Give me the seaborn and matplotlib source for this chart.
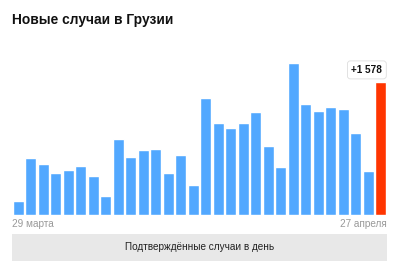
import matplotlib
matplotlib.use("Agg")
import matplotlib.pyplot as plt
import seaborn as sns
import pandas as pd

days = [f"{d} марта" for d in range(29, 32)] + [f"{d} апреля" for d in range(1, 28)]
cases = [166, 675, 607, 494, 529, 577, 465, 221, 903, 683,
         766, 778, 501, 710, 355, 1382, 1086, 1030, 1086, 1220,
         817, 572, 1803, 1311, 1231, 1275, 1259, 967, 521, 1578]
title = "Новые случаи в Грузии"
first_label = "29 марта"
last_label = "27 апреля"
last_value_label = "+1 578"
footer = "Подтверждённые случаи в день"

sns.set_style("white")
plt.rcParams['font.family'] = ['Liberation Sans', 'DejaVu Sans']

W, H = 400, 261
fig = plt.figure(figsize=(W / 100, H / 100), dpi=100)

# axes: x 12..387 px, y baseline 215, top 45
ax = fig.add_axes([12 / W, 1 - 215 / H, 375 / W, 170 / H])
df = pd.DataFrame({"day": days, "cases": cases})
palette = ["#52a8ff"] * (len(days) - 1) + ["#ff3500"]
sns.barplot(data=df, x="day", y="cases", hue="day", palette=palette,
            legend=False, width=0.91, ax=ax, saturation=1)
ax.set_xlim(-0.5, len(days) - 0.5)
ax.set_ylim(0, 170 * 1578 / 133.3)
ax.axis("off")

# value label above last bar
ax.annotate(last_value_label, xy=(len(days) - 1, cases[-1]), xytext=(-10, 8.5),
            textcoords="offset points", ha="center", va="center",
            fontsize=7.2, fontweight="bold", color="#111111",
            bbox=dict(boxstyle="round,pad=0.4,rounding_size=0.3",
                      fc="white", ec="#dddddd", lw=0.6))

fig.text(12 / W, 1 - 20 / H, title, fontsize=9.9, fontweight="bold",
         color="#111111", ha="left", va="center")
fig.text(12 / W, 1 - 224 / H, first_label, fontsize=7.2, color="#999999",
         ha="left", va="center")
fig.text(387 / W, 1 - 224 / H, last_label, fontsize=7.2, color="#999999",
         ha="right", va="center")

# footer grey box
box = plt.Rectangle((12 / W, 0), 375 / W, 1 - 234 / H, transform=fig.transFigure,
                    fc="#e8e8e8", ec="none")
fig.patches.append(box)
fig.text(199.5 / W, 1 - 247.5 / H, footer, fontsize=7.2, color="#222222",
         ha="center", va="center")

fig.savefig("out.png", dpi=100)
